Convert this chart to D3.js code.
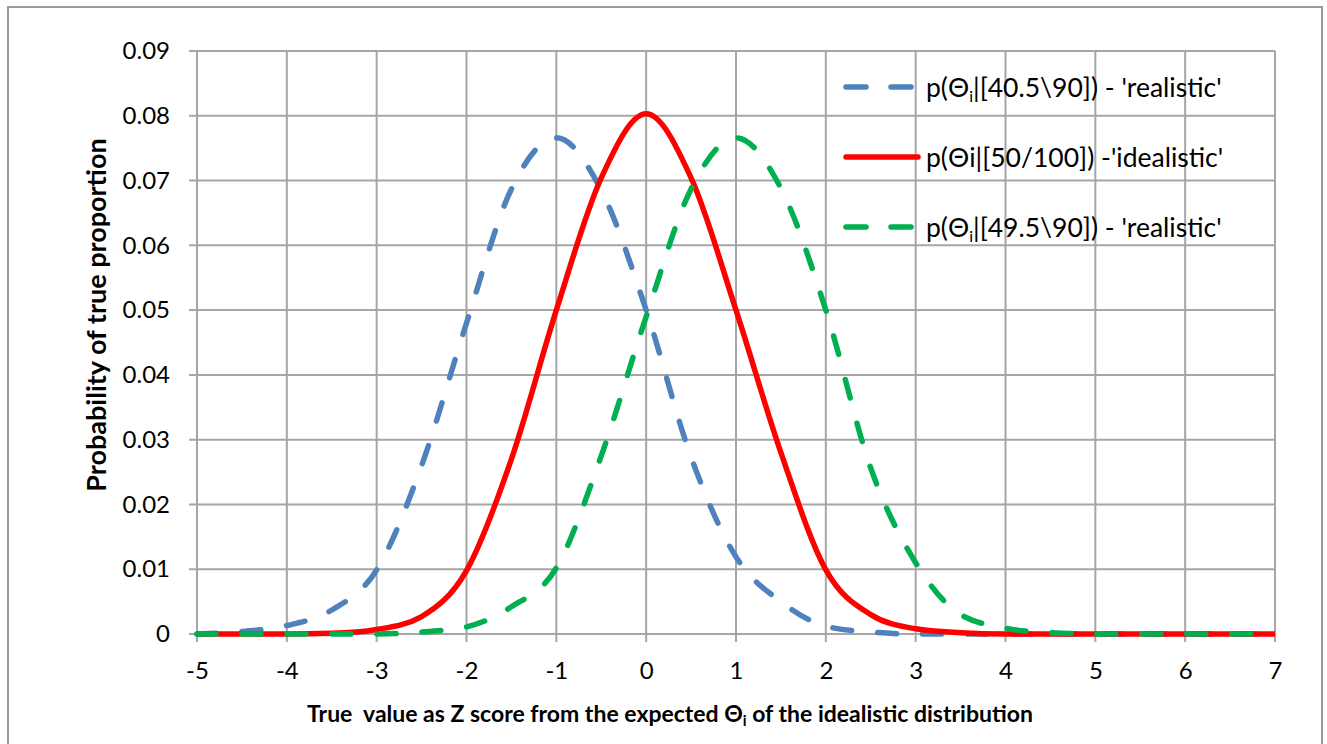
<!DOCTYPE html>
<html>
<head>
<meta charset="utf-8">
<script src="https://cdn.jsdelivr.net/npm/d3@7"></script>
<style>
  html, body { margin: 0; padding: 0; background: #fff; }
  svg { display: block; font-family: Lato, "Open Sans", sans-serif; }
</style>
</head>
<body>
<svg id="chart" width="1327" height="744"></svg>
<script>
// ---- data ----
const zValues = [-5, -4.5, -4, -3.5, -3, -2.5, -2, -1.5, -1, -0.5, 0, 0.5, 1, 1.5, 2, 2.5, 3, 3.5, 4, 4.5, 5, 5.5, 6, 6.5, 7];
const realisticLow = [0, 0.0004, 0.0013, 0.0037, 0.0099, 0.026, 0.048, 0.0687, 0.0766, 0.0685, 0.050, 0.0273, 0.0119, 0.005, 0.0012, 0.0003, 0, 0, 0, 0, 0, 0, 0, 0, 0];
const idealistic = [0, 0, 0, 0.0001, 0.0007, 0.0027, 0.0098, 0.027, 0.050, 0.0704, 0.0803, 0.0704, 0.050, 0.028, 0.0099, 0.003, 0.0008, 0.0002, 0, 0, 0, 0, 0, 0, 0];
const realisticHigh = [0, 0, 0, 0, 0, 0.0003, 0.0011, 0.0042, 0.0102, 0.0275, 0.049, 0.0687, 0.0766, 0.0688, 0.050, 0.0256, 0.011, 0.003, 0.0009, 0.0002, 0, 0, 0, 0, 0];
const xTicks = [-5, -4, -3, -2, -1, 0, 1, 2, 3, 4, 5, 6, 7];
const yTicks = [0, 0.01, 0.02, 0.03, 0.04, 0.05, 0.06, 0.07, 0.08, 0.09];
const seriesNames = ["realisticLow", "idealistic", "realisticHigh"];

// ---- layout ----
const svg = d3.select("#chart");
const pLeft = 197, pRight = 1275, pTop = 51, pBottom = 634;
const x = d3.scaleLinear().domain([-5, 7]).range([pLeft, pRight]);
const y = d3.scaleLinear().domain([0, 0.09]).range([pBottom, pTop]);
const gridColor = "#a6a6a6";

// outer border
svg.append("rect").attr("x", 8).attr("y", 7).attr("width", 1314).attr("height", 740)
  .attr("fill", "#fff").attr("stroke", "#9a9a9a").attr("stroke-width", 2);

// grid
const grid = svg.append("g");
grid.selectAll("line.h").data(yTicks).join("line")
  .attr("x1", pLeft - 8).attr("x2", pRight)
  .attr("y1", d => y(d)).attr("y2", d => y(d))
  .attr("stroke", gridColor).attr("stroke-width", 2);
grid.selectAll("line.v").data(xTicks).join("line")
  .attr("y1", pTop).attr("y2", pBottom + 8)
  .attr("x1", d => x(d)).attr("x2", d => x(d))
  .attr("stroke", gridColor).attr("stroke-width", 2);

// axes labels via d3 axes
const yAxis = d3.axisLeft(y).tickValues(yTicks).tickSize(0).tickPadding(27)
  .tickFormat(d => d === 0 ? "0" : d3.format(".2f")(d));
svg.append("g").attr("transform", `translate(${pLeft},0)`).call(yAxis)
  .call(g => g.select(".domain").remove())
  .call(g => g.selectAll("text").attr("font-size", 24).attr("fill", "#000").attr("font-family", "Lato"));

const xAxis = d3.axisBottom(x).tickValues(xTicks).tickSize(0).tickPadding(28)
  .tickFormat(d => String(d));
svg.append("g").attr("transform", `translate(0,${pBottom})`).call(xAxis)
  .call(g => g.select(".domain").remove())
  .call(g => g.selectAll("text").attr("font-size", 24).attr("fill", "#000").attr("font-family", "Lato"));

// lines
const line = d3.line().x((d, i) => x(zValues[i])).y(d => y(d)).curve(d3.curveMonotoneX);
const styles = {
  realisticLow: { data: realisticLow, color: "#4f81bd", dash: "19,26" },
  idealistic: { data: idealistic, color: "#ff0000", dash: null },
  realisticHigh: { data: realisticHigh, color: "#00b050", dash: "19,26" }
};
seriesNames.forEach(n => {
  const s = styles[n];
  svg.append("path").attr("d", line(s.data))
    .attr("fill", "none").attr("stroke", s.color).attr("stroke-width", 5.5)
    .attr("stroke-linecap", s.dash ? "round" : "butt")
    .attr("stroke-linejoin", "round")
    .attr("stroke-dasharray", s.dash);
});

// legend
const legendItems = [
  { key: "realisticLow", pre: "p(Θ", sub: "i", post: "|[40.5\\90]) - 'realistic'", y: 87 },
  { key: "idealistic", pre: "p(Θi|[50/100]) -'idealistic'", sub: null, post: "", y: 157 },
  { key: "realisticHigh", pre: "p(Θ", sub: "i", post: "|[49.5\\90]) - 'realistic'", y: 227 }
];
const lg = svg.append("g");
legendItems.forEach(it => {
  const s = styles[it.key];
  lg.append("line").attr("x1", 846).attr("x2", 918).attr("y1", it.y).attr("y2", it.y)
    .attr("stroke", s.color).attr("stroke-width", 5.5)
    .attr("stroke-linecap", "round")
    .attr("stroke-dasharray", s.dash ? "20,25" : null);
  const t = lg.append("text").attr("x", 926).attr("y", it.y + 10)
    .attr("font-size", 26.5).attr("font-family", "Lato").attr("fill", "#000");
  t.append("tspan").text(it.pre);
  if (it.sub) {
    t.append("tspan").attr("font-size", 16).attr("dy", 5).text(it.sub);
    t.append("tspan").attr("dy", -5).text(it.post);
  }
});

// axis titles
const xt = svg.append("text").attr("x", 670).attr("y", 722).attr("text-anchor", "middle")
  .attr("font-size", 23).attr("font-weight", "bold").attr("font-family", "Lato").attr("fill", "#000")
  .attr("xml:space", "preserve");
xt.append("tspan").text("True  value as Z score from the expected Θ");
xt.append("tspan").attr("font-size", 15).attr("dy", 4).text("i");
xt.append("tspan").attr("dy", -4).text(" of the idealistic distribution");

svg.append("text").attr("transform", "translate(106,315) rotate(-90)")
  .attr("text-anchor", "middle").attr("font-size", 27).attr("font-weight", "bold")
  .attr("font-family", "Lato").attr("fill", "#000")
  .text("Probability of true proportion");
</script>
</body>
</html>
